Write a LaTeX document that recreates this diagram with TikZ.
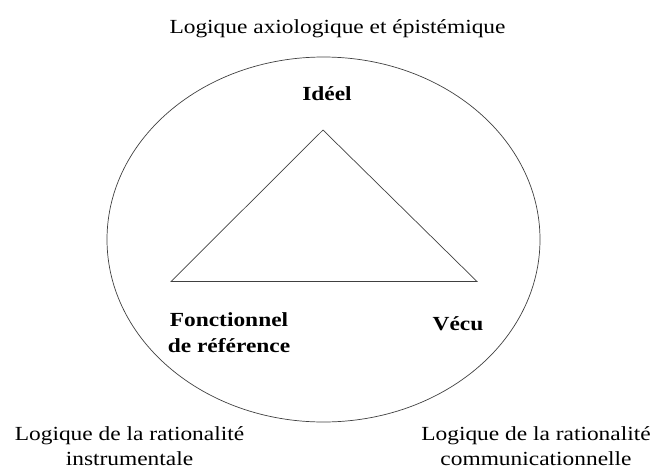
\documentclass[tikz,border=0pt]{standalone}
\usepackage{fontspec}
\setmainfont{Liberation Serif}[FakeStretch=1.17]
\begin{document}
\begin{tikzpicture}[x=1pt,y=-1pt,
  lbl/.style={inner sep=0pt, anchor=base, align=center, font=\fontsize{20}{25}\selectfont},
  blbl/.style={lbl, font=\fontsize{20}{26}\selectfont\bfseries},
  shapeline/.style={draw=black!75, line width=0.7pt}]
\useasboundingbox (0,0) rectangle (655,474);
\draw[shapeline] (323.5,239.5) ellipse [x radius=216.5, y radius=182.5];
\coordinate (apex) at (323,130);
\coordinate (bl) at (171,281.5);
\coordinate (br) at (477,281.5);
\draw[shapeline, line join=miter] (apex) -- (bl) -- (br) -- cycle;
\node[lbl] (top) at (337.5,33) {Logique axiologique et épistémique};
\node[blbl] (ideel) at (327,100) {Idéel};
% base anchor of a multi-line node is the baseline of its last line
\node[blbl] (fonc) at (229,352) {Fonctionnel\\de référence};
\node[blbl] (vecu) at (458,330) {Vécu};
\node[lbl] (instr) at (129.5,465) {Logique de la rationalité\\instrumentale};
\node[lbl] (comm) at (536,465) {Logique de la rationalité\\communicationnelle};
\end{tikzpicture}
\end{document}
